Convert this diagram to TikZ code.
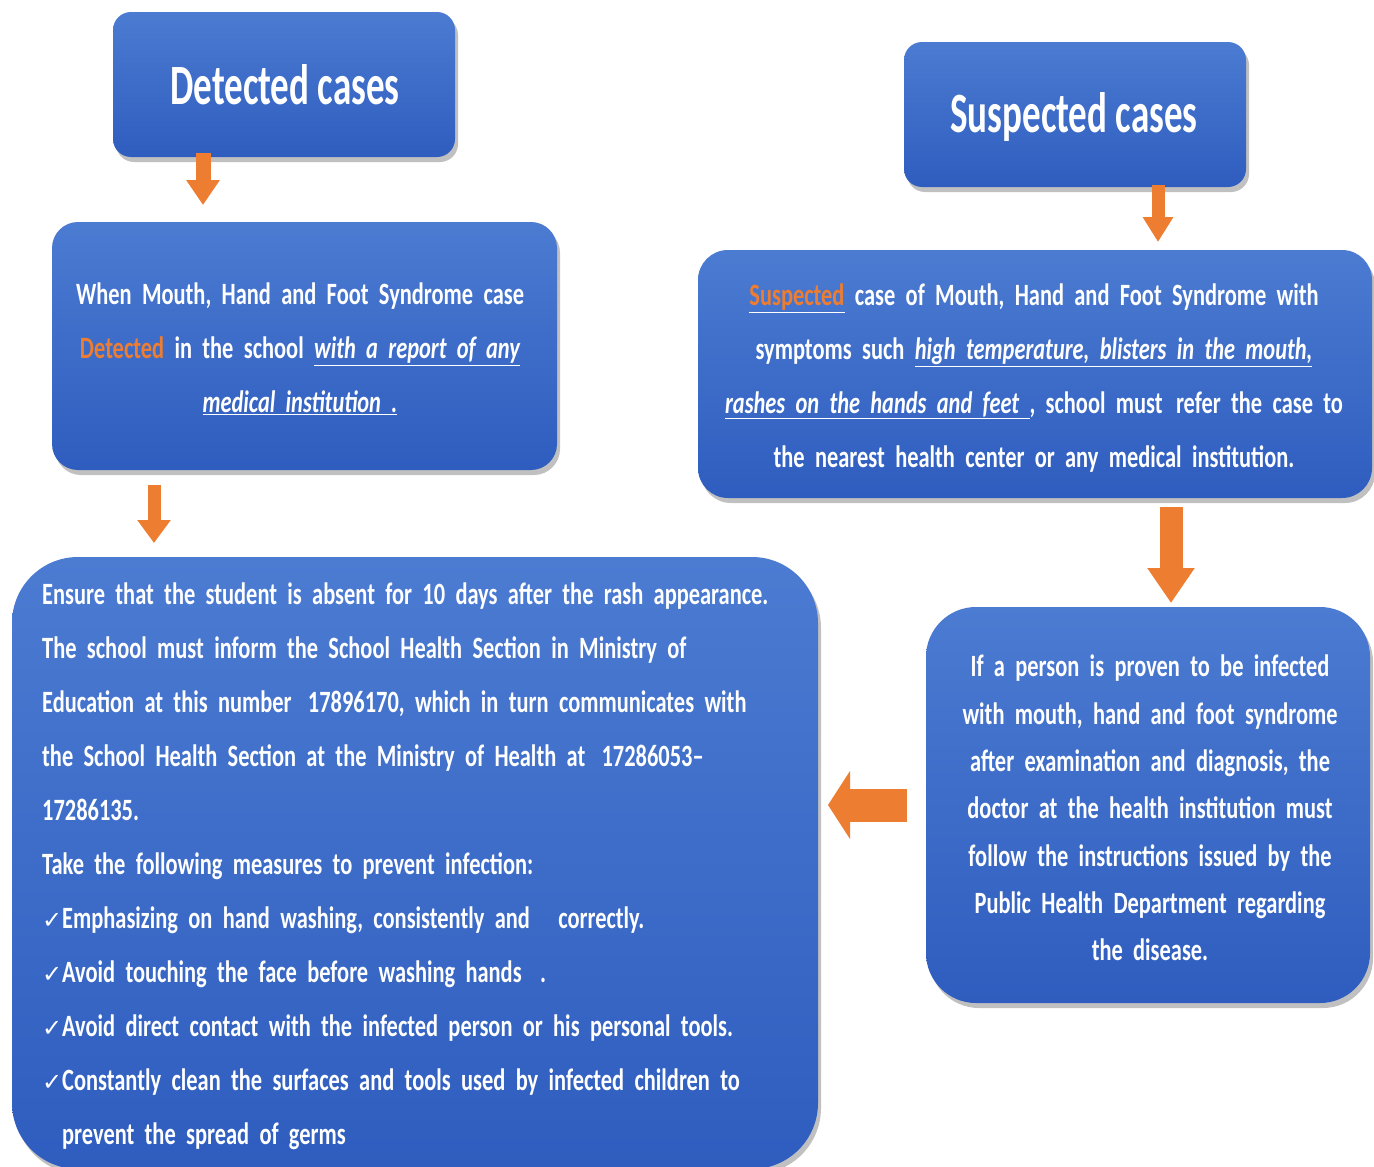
\documentclass[tikz,border=0pt]{standalone}
\usepackage{fontspec}
\setmainfont{Carlito}[FakeStretch=0.723]
\newfontfamily\titlefont{Carlito}[FakeStretch=0.65]
\newfontfamily\chkfont{DejaVu Sans}
\usetikzlibrary{arrows.meta,shadows}
\definecolor{boxtop}{HTML}{4C7BD2}
\definecolor{boxbot}{HTML}{2E5DBF}
\definecolor{arr}{HTML}{ED7D31}
\newcommand{\ckm}{\makebox[20pt][l]{\chkfont\mdseries\fontsize{24}{24}\selectfont ✓}}
\newcommand{\ulit}[1]{\underline{\itshape #1}}
\newcommand{\bodyfont}[1]{\bfseries\fontsize{31}{#1}\selectfont}
\tikzset{
  box/.style={rectangle, inner sep=0pt, outer sep=0pt, top color=boxtop, bottom color=boxbot, draw=none,
    drop shadow={shadow xshift=3pt, shadow yshift=-5pt, opacity=0.35, fill=black!70}},
  txt/.style={text=white, inner sep=0pt, font=\bodyfont{54}, align=center},
  ttl/.style={text=white, inner sep=0pt, font=\titlefont\bfseries\fontsize{57}{60}\selectfont},
  blk/.style={draw=arr, fill=arr, color=arr}
}
\begin{document}
\begin{tikzpicture}[x=1pt,y=-1pt]
\fill[white] (0,0) rectangle (1374,1167);
\useasboundingbox (0,0) rectangle (1374,1167);
\begin{scope}
\clip (0,0) rectangle (1374,1167);
% boxes
\node[box, rounded corners=18pt, minimum width=342pt, minimum height=145pt] (b1) at (284,84.5) {};
\node[box, rounded corners=18pt, minimum width=342pt, minimum height=145pt] (b3) at (1075,114.5) {};
\node[box, rounded corners=26pt, minimum width=505pt, minimum height=248pt] (b2) at (304.5,346) {};
\node[box, rounded corners=30pt, minimum width=674pt, minimum height=248pt] (b4) at (1035,374) {};
\node[box, rounded corners=50pt, minimum width=444pt, minimum height=396pt] (b5) at (1148,805) {};
\node[box, rounded corners=66pt, minimum width=806pt, minimum height=612pt] (b6) at (415,863) {};
\end{scope}

% titles
\node[ttl] (tt1) at (285,85) {Detected cases};
\node[ttl] (tt3) at (1074,117) {Suspected cases};

% texts
\node[txt, text width=500pt] (t2) at (300,349) {When Mouth, Hand and Foot Syndrome case\\
{\color{arr}Detected} in the school \ulit{with a report of any}\\
\ulit{medical institution .}};

\node[txt, text width=670pt] (t4) at (1034,378) {\underline{\color{arr}Suspected} case of Mouth, Hand and Foot Syndrome with\\
symptoms such \ulit{high temperature, blisters in the mouth,}\\
\ulit{rashes on the hands and feet }, school must\hspace{3pt} refer the case to\\
the nearest health center or any medical institution.};

\node[txt, text width=440pt, font=\bodyfont{47.3}] (t5) at (1150,808) {If a person is proven to be infected\\
with mouth, hand and foot syndrome\\
after examination and diagnosis, the\\
doctor at the health institution must\\
follow the instructions issued by the\\
Public Health Department regarding\\
the disease.};

\node[txt, text width=780pt, align=left, anchor=west] (t6) at (42,866.5) {Ensure that the student is absent for 10 days after the rash appearance.\\
The school must inform the School Health Section in Ministry of\\
Education at this number\hspace{6pt} 17896170, which in turn communicates with\\
the School Health Section at the Ministry of Health at\hspace{6pt} 17286053–\\
17286135.\\
Take the following measures to prevent infection:\\
\ckm Emphasizing on hand washing, consistently and\hspace{18pt} correctly.\\
\ckm Avoid touching the face before washing hands\hspace{8pt} .\\
\ckm Avoid direct contact with the infected person or his personal tools.\\
\ckm Constantly clean the surfaces and tools used by infected children to\\
\hspace*{20pt}prevent the spread of germs};

% arrows
\coordinate (ax1) at (203,0);
\coordinate (ax2) at (154,0);
\coordinate (ax3) at (1158,0);
\coordinate (ax4) at (1171,0);
\draw[blk, line width=15pt, -{Triangle[width=32pt,length=25pt]}, shorten <=-4pt, shorten >=17pt]
  (b1.south -| ax1) -- (b2.north -| ax1);
\draw[blk, line width=13pt, -{Triangle[width=32pt,length=23pt]}, shorten <=15pt, shorten >=14pt]
  (b2.south -| ax2) -- (b6.north -| ax2);
\draw[blk, line width=13pt, -{Triangle[width=29pt,length=25pt]}, shorten <=-2pt, shorten >=8pt]
  (b3.south -| ax3) -- (b4.north -| ax3);
\draw[blk, line width=23pt, -{Triangle[width=45pt,length=35pt]}, shorten <=9pt, shorten >=4pt]
  (b4.south -| ax4) -- (b5.north -| ax4);
\draw[blk, line width=33pt, -{Triangle[width=67pt,length=22pt]}, shorten <=19pt, shorten >=10pt]
  (b5.west) -- (b5.west -| b6.east);
\end{tikzpicture}
\end{document}
